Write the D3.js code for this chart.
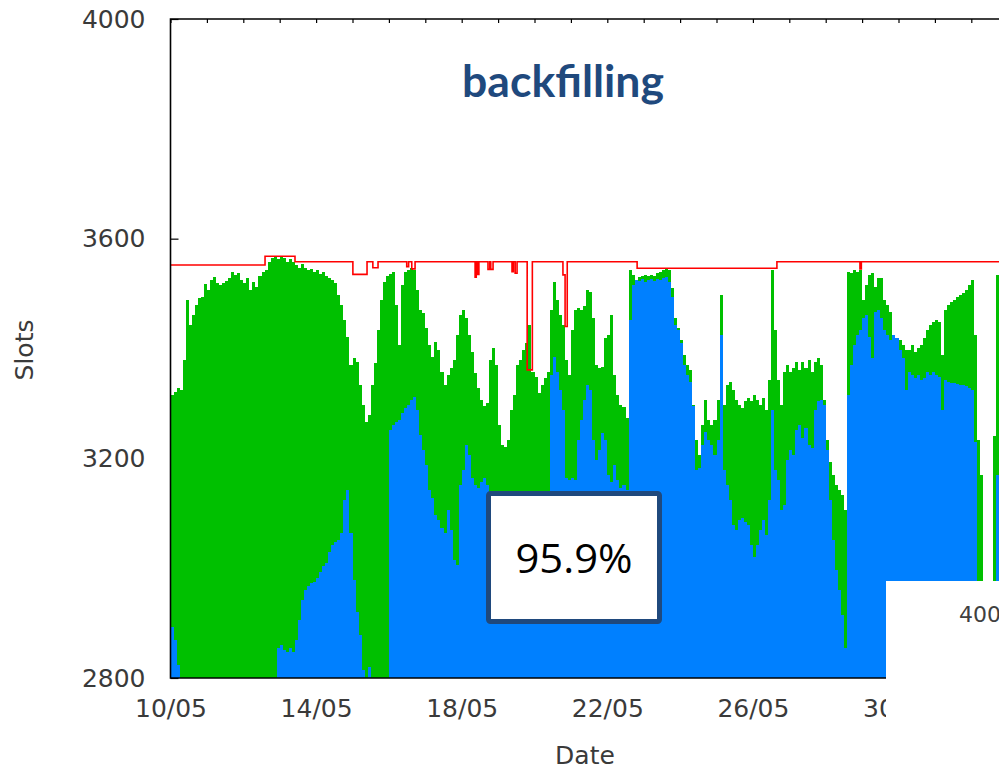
<!DOCTYPE html>
<html>
<head>
<meta charset="utf-8">
<script src="https://cdn.jsdelivr.net/npm/d3@7"></script>
<style>
  html, body { margin: 0; padding: 0; background: #fff; }
  svg { display: block; }
</style>
</head>
<body>
<svg id="chart" width="999" height="771"></svg>
<script>
// ---- data -------------------------------------------------------------
// Slot occupancy sampled every 2 hours from 10/05 00:00 (one row = one day).
// Values under 2800 lie below the visible range of the plot.
const seriesStart = "2013-05-10T00:00";
const stepHours = 2;

// all running jobs, backfilled ones included (green)
const totalRunning = [
  3315, 3321, 3328, 3324, 3379, 3488, 3443, 3461, 3479, 3492, 3494, 3517,
  3507, 3525, 3530, 3519, 3516, 3519, 3523, 3528, 3539, 3534, 3537, 3525,
  3519, 3528, 3507, 3521, 3512, 3532, 3539, 3543, 3557, 3565, 3567, 3563,
  3567, 3565, 3557, 3563, 3557, 3552, 3547, 3554, 3547, 3543, 3545, 3539,
  3543, 3536, 3539, 3532, 3528, 3525, 3519, 3497, 3479, 3452, 3421, 3370,
  3383, 3375, 3334, 3297, 3266, 3279, 3334, 3374, 3434, 3488, 3521, 3532,
  3536, 3539, 3479, 3406, 3516, 3539, 3543, 3547, 3543, 3507, 3470, 3465,
  3437, 3406, 3385, 3412, 3397, 3357, 3334, 3352, 3364, 3379, 3425, 3461,
  3470, 3455, 3425, 3394, 3355, 3328, 3306, 3295, 3301, 3379, 3401, 3370,
  3261, 3224, 3221, 3233, 3288, 3315, 3370, 3379, 3397, 3410, 3443, 3357,
  3348, 3319, 3334, 3346, 3357, 3470, 3521, 3488, 3461, 3443, 3379, 3352,
  3434, 3470, 3474, 3470, 3477, 3507, 3503, 3455, 3370, 3364, 3366, 3419,
  3425, 3461, 3352, 3315, 3297, 3293, 3274, 3543, 3534, 3521, 3530, 3532,
  3534, 3532, 3534, 3532, 3537, 3539, 3543, 3547, 3543, 3510, 3455, 3437,
  3415, 3388, 3370, 3361, 3297, 3233, 3206, 3261, 3306, 3270, 3261, 3270,
  3306, 3497, 3297, 3334, 3339, 3324, 3306, 3297, 3292, 3304, 3310, 3304,
  3315, 3306, 3297, 3310, 3288, 3343, 3543, 3434, 3343, 3297, 3357, 3370,
  3357, 3364, 3375, 3361, 3375, 3364, 3379, 3357, 3375, 3383, 3370, 3306,
  3233, 3193, 3170, 3151, 3142, 3133, 3106, 3539, 3537, 3543, 3539, 3543,
  3488, 3516, 3534, 3537, 3512, 3528, 3528, 3488, 3479, 3466, 3425, 3415,
  3415, 3406, 3397, 3397, 3406, 3394, 3401, 3406, 3419, 3434, 3443, 3448,
  3452, 3448, 3388, 3470, 3479, 3485, 3488, 3494, 3497, 3501, 3507, 3516,
  3525, 3425, 3233, 3170, 2750, 2750, 2750, 3240, 3534, 3530
];

// regular (non-backfilled) jobs (blue)
const regularRunning = [
  2893, 2869, 2824, 2750, 2750, 2750, 2750, 2750, 2750, 2750, 2750, 2750,
  2750, 2750, 2750, 2750, 2750, 2750, 2750, 2750, 2750, 2750, 2750, 2750,
  2750, 2750, 2750, 2750, 2750, 2750, 2750, 2750, 2750, 2750, 2750, 2855,
  2860, 2851, 2847, 2855, 2847, 2869, 2906, 2942, 2960, 2968, 2973, 2975,
  2982, 2993, 3004, 3009, 3029, 3042, 3048, 3051, 3064, 3124, 3142, 3064,
  2978, 2920, 2878, 2815, 2750, 2820, 2750, 2750, 2750, 2750, 2750, 2750,
  3252, 3261, 3266, 3270, 3283, 3292, 3297, 3306, 3312, 3288, 3242, 3215,
  3188, 3142, 3128, 3097, 3088, 3073, 3064, 3106, 3070, 3015, 3006, 3151,
  3179, 3224, 3206, 3164, 3151, 3146, 3157, 3164, 3151, 3120, 3100, 3080,
  3060, 3040, 3030, 3050, 3070, 3090, 3100, 3110, 3105, 3110, 3115, 3100,
  3090, 3080, 3100, 3120, 3125, 3352, 3385, 3357, 3324, 3288, 3164, 3161,
  3164, 3161, 3233, 3270, 3306, 3334, 3324, 3233, 3197, 3215, 3246, 3233,
  3170, 3157, 3188, 3161, 3146, 3151, 3142, 3452, 3516, 3525, 3523, 3526,
  3521, 3525, 3526, 3523, 3526, 3525, 3528, 3530, 3521, 3494, 3443, 3434,
  3410, 3370, 3352, 3339, 3295, 3179, 3182, 3224, 3248, 3233, 3224, 3206,
  3233, 3425, 3179, 3151, 3124, 3079, 3070, 3088, 3092, 3084, 3079, 3042,
  3020, 3042, 3070, 3088, 3060, 3124, 3288, 3179, 3161, 3106, 3115, 3197,
  3215, 3206, 3252, 3261, 3237, 3256, 3224, 3219, 3288, 3304, 3306, 3297,
  3215, 3124, 3051, 2997, 2960, 2915, 2855, 3315, 3370, 3406, 3425, 3434,
  3455, 3461, 3421, 3383, 3466, 3470, 3455, 3434, 3425, 3415, 3425, 3419,
  3397, 3383, 3324, 3357, 3352, 3346, 3352, 3343, 3346, 3357, 3352, 3357,
  3352, 3348, 3288, 3343, 3339, 3337, 3337, 3335, 3334, 3334, 3332, 3328,
  3324, 3230, 2750, 2750, 2750, 2750, 2750, 2750, 3170, 3170
];

// available slots: value holds from each time until the next one
const capacityTimes = [
  "2013-05-10T00:00", "2013-05-12T14:20", "2013-05-13T10:05", "2013-05-15T00:15",
  "2013-05-15T09:35", "2013-05-15T13:25", "2013-05-15T16:50", "2013-05-16T11:45",
  "2013-05-16T13:00", "2013-05-16T15:05", "2013-05-16T17:15", "2013-05-18T08:50",
  "2013-05-18T09:35", "2013-05-18T10:35", "2013-05-18T11:20", "2013-05-18T17:20",
  "2013-05-18T18:30", "2013-05-18T19:10", "2013-05-18T20:40", "2013-05-19T09:10",
  "2013-05-19T10:05", "2013-05-19T11:15", "2013-05-19T12:30", "2013-05-19T19:10",
  "2013-05-19T22:35", "2013-05-20T18:45", "2013-05-20T20:10", "2013-05-20T21:35",
  "2013-05-22T19:40", "2013-05-26T15:50", "2013-05-28T22:35", "2013-05-28T23:30",
  "2013-06-02T00:00"
];
const capacityValues = [
  3552, 3568, 3558, 3535,
  3558, 3547, 3558, 3549,
  3558, 3545, 3558, 3530,
  3558, 3535, 3558, 3544,
  3558, 3544, 3558, 3540,
  3558, 3537, 3558, 3361,
  3558, 3534, 3440, 3558,
  3546, 3558, 3545, 3558,
  3558
];

const yTickValues = [2800, 3200, 3600, 4000];
const xTickLabels = ["10/05", "14/05", "18/05", "22/05", "26/05", "30/05"];
const tickYear = "2013";
const xAxisTitle = "Date";
const yAxisTitle = "Slots";
const chartTitle = "backfilling";
const efficiencyText = "95.9%";
const insetAxisText = "4000";

// ---- layout -----------------------------------------------------------
const W = 999, H = 771;
const plotLeft = 170.5, plotTop = 19, plotBottom = 678;
const dayWidth = 36.4, visibleDays = 23;
const COLORS = { total: "#00c000", regular: "#0080ff", capacity: "#ff0000", frame: "#000", text: "#3a3a3a", title: "#1f497d" };
const tickFont = "'DejaVu Sans', Verdana, sans-serif";

const parseTime = d3.timeParse("%Y-%m-%dT%H:%M");
const parseTick = d3.timeParse("%d/%m/%Y");
const t0 = parseTime(seriesStart);
const tEnd = d3.timeDay.offset(t0, visibleDays);
const plotRight = plotLeft + visibleDays * dayWidth;

const x = d3.scaleTime().domain([t0, tEnd]).range([plotLeft, plotRight]);
const y = d3.scaleLinear().domain([yTickValues[0], yTickValues[yTickValues.length - 1]]).range([plotBottom, plotTop]);

const svg = d3.select("#chart");
svg.append("rect").attr("width", W).attr("height", H).attr("fill", "#fff");

svg.append("defs").append("clipPath").attr("id", "plotClip")
  .append("rect").attr("x", plotLeft).attr("y", plotTop)
  .attr("width", plotRight - plotLeft).attr("height", plotBottom - plotTop);

// ---- axes (ticks sit behind the filled areas) -------------------------
const yAxis = svg.append("g").attr("transform", `translate(${plotLeft},0)`)
  .call(d3.axisLeft(y).tickValues(yTickValues).tickFormat(d3.format("d"))
    .tickSizeInner(-8).tickSizeOuter(0).tickPadding(25));

const xTickDates = xTickLabels.map(s => parseTick(`${s}/${tickYear}`));
const xAxis = svg.append("g").attr("transform", `translate(0,${plotBottom})`)
  .call(d3.axisBottom(x).tickValues(xTickDates).tickFormat(d3.timeFormat("%d/%m"))
    .tickSizeInner(-8).tickSizeOuter(0).tickPadding(21));

const topTicks = svg.append("g").attr("transform", `translate(0,${plotTop})`)
  .call(d3.axisTop(x).ticks(d3.timeDay.every(1)).tickFormat("")
    .tickSizeInner(-4).tickSizeOuter(0));

[yAxis, xAxis, topTicks].forEach(g => {
  g.select(".domain").remove();
  g.selectAll(".tick line").attr("stroke", COLORS.frame).attr("stroke-width", 1.2);
  g.selectAll(".tick text").attr("fill", COLORS.text)
    .style("font-family", tickFont).style("font-size", "25px");
});

// ---- data layers ------------------------------------------------------
function stepPoints(values) {
  const pts = values.map((v, i) => ({ t: d3.timeHour.offset(t0, i * stepHours), v }));
  pts.push({ t: d3.timeHour.offset(t0, values.length * stepHours), v: values[values.length - 1] });
  return pts;
}

const area = d3.area().curve(d3.curveStepAfter)
  .x(d => x(d.t)).y0(plotBottom + 10).y1(d => y(d.v));

const layers = svg.append("g").attr("clip-path", "url(#plotClip)");
layers.append("path").datum(stepPoints(totalRunning))
  .attr("d", area).attr("fill", COLORS.total).attr("shape-rendering", "crispEdges");
layers.append("path").datum(stepPoints(regularRunning))
  .attr("d", area).attr("fill", COLORS.regular).attr("shape-rendering", "crispEdges");

const capacity = capacityTimes.map((s, i) => ({ t: parseTime(s), v: capacityValues[i] }));
layers.append("path").datum(capacity)
  .attr("d", d3.line().curve(d3.curveStepAfter).x(d => x(d.t)).y(d => y(d.v)))
  .attr("fill", "none").attr("stroke", COLORS.capacity).attr("stroke-width", 1.6);

// ---- frame ------------------------------------------------------------
svg.append("path")
  .attr("d", `M${plotRight},${plotTop}H${plotLeft}V${plotBottom}H${plotRight}`)
  .attr("fill", "none").attr("stroke", COLORS.frame).attr("stroke-width", 1.6);

// ---- axis titles ------------------------------------------------------
svg.append("text").text(xAxisTitle)
  .attr("x", 585).attr("y", 764).attr("text-anchor", "middle")
  .attr("fill", COLORS.text).style("font-family", tickFont).style("font-size", "25px");

svg.append("text").text(yAxisTitle)
  .attr("transform", "translate(33,350) rotate(-90)").attr("text-anchor", "middle")
  .attr("fill", COLORS.text).style("font-family", tickFont).style("font-size", "25px");

// ---- title and annotation --------------------------------------------
svg.append("text").text(chartTitle)
  .attr("x", 563).attr("y", 97).attr("text-anchor", "middle")
  .attr("fill", COLORS.title).style("font-family", "Lato, 'Open Sans', sans-serif")
  .style("font-weight", "bold").style("font-size", "44.5px");

const note = svg.append("g");
note.append("rect").attr("x", 488.5).attr("y", 493.5).attr("width", 171).attr("height", 128)
  .attr("rx", 2).attr("fill", "#fff").attr("stroke", COLORS.title).attr("stroke-width", 5);
note.append("text").text(efficiencyText)
  .attr("x", 574).attr("y", 573).attr("text-anchor", "middle")
  .attr("textLength", 117).attr("lengthAdjust", "spacingAndGlyphs")
  .attr("fill", "#000").style("font-family", "'Open Sans', sans-serif").style("font-size", "41px");

// neighbouring panel overlapping the lower right corner
const inset = svg.append("g");
inset.append("rect").attr("x", 886).attr("y", 581).attr("width", W - 886).attr("height", H - 581).attr("fill", "#fff");
inset.append("text").text(insetAxisText)
  .attr("x", 959).attr("y", 622).attr("fill", "#404040")
  .style("font-family", tickFont).style("font-size", "22px");
</script>
</body>
</html>
